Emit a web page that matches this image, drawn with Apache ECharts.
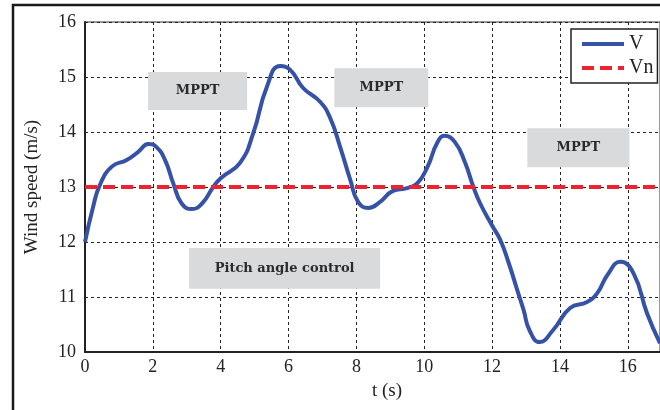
<!DOCTYPE html>
<html>
<head>
<meta charset="utf-8">
<script src="https://cdn.jsdelivr.net/npm/echarts@6/dist/echarts.min.js"></script>
<style>
  html, body { margin: 0; padding: 0; background: #fff; }
  #chart { width: 660px; height: 410px; }
</style>
</head>
<body>
<div id="chart"></div>
<script>
// Time axis (s) and measured wind speed V (m/s)
const timeS = [0, 0.24, 0.44, 0.79, 1.23, 1.57, 1.87, 2.1, 2.36, 2.6,
  2.85, 3.15, 3.45, 3.78, 4.0, 4.57, 4.96, 5.36, 5.75, 6.05,
  6.43, 6.93, 7.23, 7.52, 7.82, 8.05, 8.35, 8.7, 9.08, 9.5,
  9.8, 10.1, 10.38, 10.6, 10.9, 11.2, 11.45, 11.65, 12.0, 12.24,
  12.5, 12.74, 12.93, 13.1, 13.4, 13.8, 14.3, 14.8, 15.1, 15.4, 15.78,
  16.17, 16.57, 16.95];
const windV = [12.0, 12.64, 13.04, 13.37, 13.49, 13.64, 13.78, 13.73, 13.49, 13.07,
  12.7, 12.6, 12.7, 13.0, 13.16, 13.44, 13.98, 14.82, 15.2, 15.13,
  14.8, 14.55, 14.25, 13.73, 13.13, 12.73, 12.62, 12.73, 12.93, 12.98,
  13.07, 13.37, 13.8, 13.93, 13.82, 13.45, 13.0, 12.7, 12.3, 12.04,
  11.6, 11.13, 10.76, 10.4, 10.18, 10.4, 10.8, 10.91, 11.07, 11.4, 11.64,
  11.43, 10.7, 10.16];

// Rated wind speed Vn (m/s)
const ratedT = [0, 16.95];
const ratedV = [13, 13];

// Axis ranges and tick steps
const xMin = 0, xMax = 16.95, xStep = 2;
const yMin = 10, yMax = 16, yStep = 1;

// Control-mode regions: [label, t0, t1, v0, v1]
const modeRegions = [
  ['MPPT', 1.86, 4.78, 14.4, 15.09],
  ['MPPT', 7.35, 10.12, 14.45, 15.16],
  ['MPPT', 13.04, 16.05, 13.36, 14.07],
  ['Pitch angle control', 3.07, 8.70, 11.15, 11.89]
];

const serif = '"Liberation Serif", "Times New Roman", serif';
const ink = '#222';

const chart = echarts.init(document.getElementById('chart'), null, { renderer: 'canvas' });

chart.setOption({
  animation: false,
  backgroundColor: '#fff',
  grid: {
    left: 85, right: 0, top: 22, bottom: 58,
    show: true, borderColor: '#333', borderWidth: 1
  },
  xAxis: {
    type: 'value', min: xMin, max: xMax, interval: xStep,
    axisLine: { show: true, onZero: false, lineStyle: { color: ink, width: 2 } },
    axisTick: { show: false },
    axisLabel: {
      color: ink, fontFamily: serif, fontSize: 18, margin: 6,
      showMaxLabel: false,
      formatter: v => (Math.abs(v / xStep - Math.round(v / xStep)) < 1e-6 ? String(v) : '')
    },
    splitLine: { show: true, lineStyle: { color: ink, width: 1, type: [3, 3] } }
  },
  yAxis: {
    type: 'value', min: yMin, max: yMax, interval: yStep,
    name: 'Wind speed (m/s)', nameLocation: 'middle', nameGap: 43,
    nameTextStyle: { color: ink, fontFamily: serif, fontSize: 19 },
    axisLine: { show: true, onZero: false, lineStyle: { color: ink, width: 2 } },
    axisTick: { show: false },
    axisLabel: { color: ink, fontFamily: serif, fontSize: 18, margin: 9 },
    splitLine: { show: true, lineStyle: { color: ink, width: 1, type: [3, 3] } }
  },
  legend: {
    orient: 'vertical', left: 571, top: 29,
    backgroundColor: '#fff', borderColor: ink, borderWidth: 1.5, borderRadius: 0,
    padding: [5, 4, 5, 9], itemGap: 4,
    itemWidth: 42, itemHeight: 4,
    itemStyle: { opacity: 0 },
    lineStyle: { width: 4 },
    textStyle: { color: ink, fontFamily: serif, fontSize: 20, lineHeight: 20 },
    data: ['V', 'Vn']
  },
  graphic: [
    {
      type: 'rect', silent: true, z: 100,
      shape: { x: 13, y: 5, width: 700, height: 450 },
      style: { fill: 'none', stroke: '#1a1a1a', lineWidth: 2.5 }
    },
    {
      type: 'text', left: 372, top: 382, silent: true,
      style: { text: 't (s)', fill: ink, font: '19px ' + serif }
    }
  ],
  series: [
    {
      name: 'V', type: 'line',
      data: timeS.map((t, i) => [t, windV[i]]),
      showSymbol: false, symbol: 'none',
      smooth: 0.5,
      lineStyle: { color: '#3552a6', width: 4 },
      itemStyle: { color: '#3552a6' },
      z: 3,
      markArea: {
        silent: true,
        itemStyle: { color: '#d9dadb' },
        label: {
          show: true, position: 'inside', color: '#2a2a2a',
          fontFamily: '"DejaVu Serif", serif', fontWeight: 'bold', fontSize: 13
        },
        data: modeRegions.map(r => [
          { name: r[0], coord: [r[1], r[4]] },
          { coord: [r[2], r[3]] }
        ])
      }
    },
    {
      name: 'Vn', type: 'line',
      data: ratedT.map((t, i) => [t, ratedV[i]]),
      showSymbol: false, symbol: 'none',
      lineStyle: { color: '#ee2230', width: 4, type: [12, 6] },
      itemStyle: { color: '#ee2230' },
      z: 4
    }
  ]
});
</script>
</body>
</html>
